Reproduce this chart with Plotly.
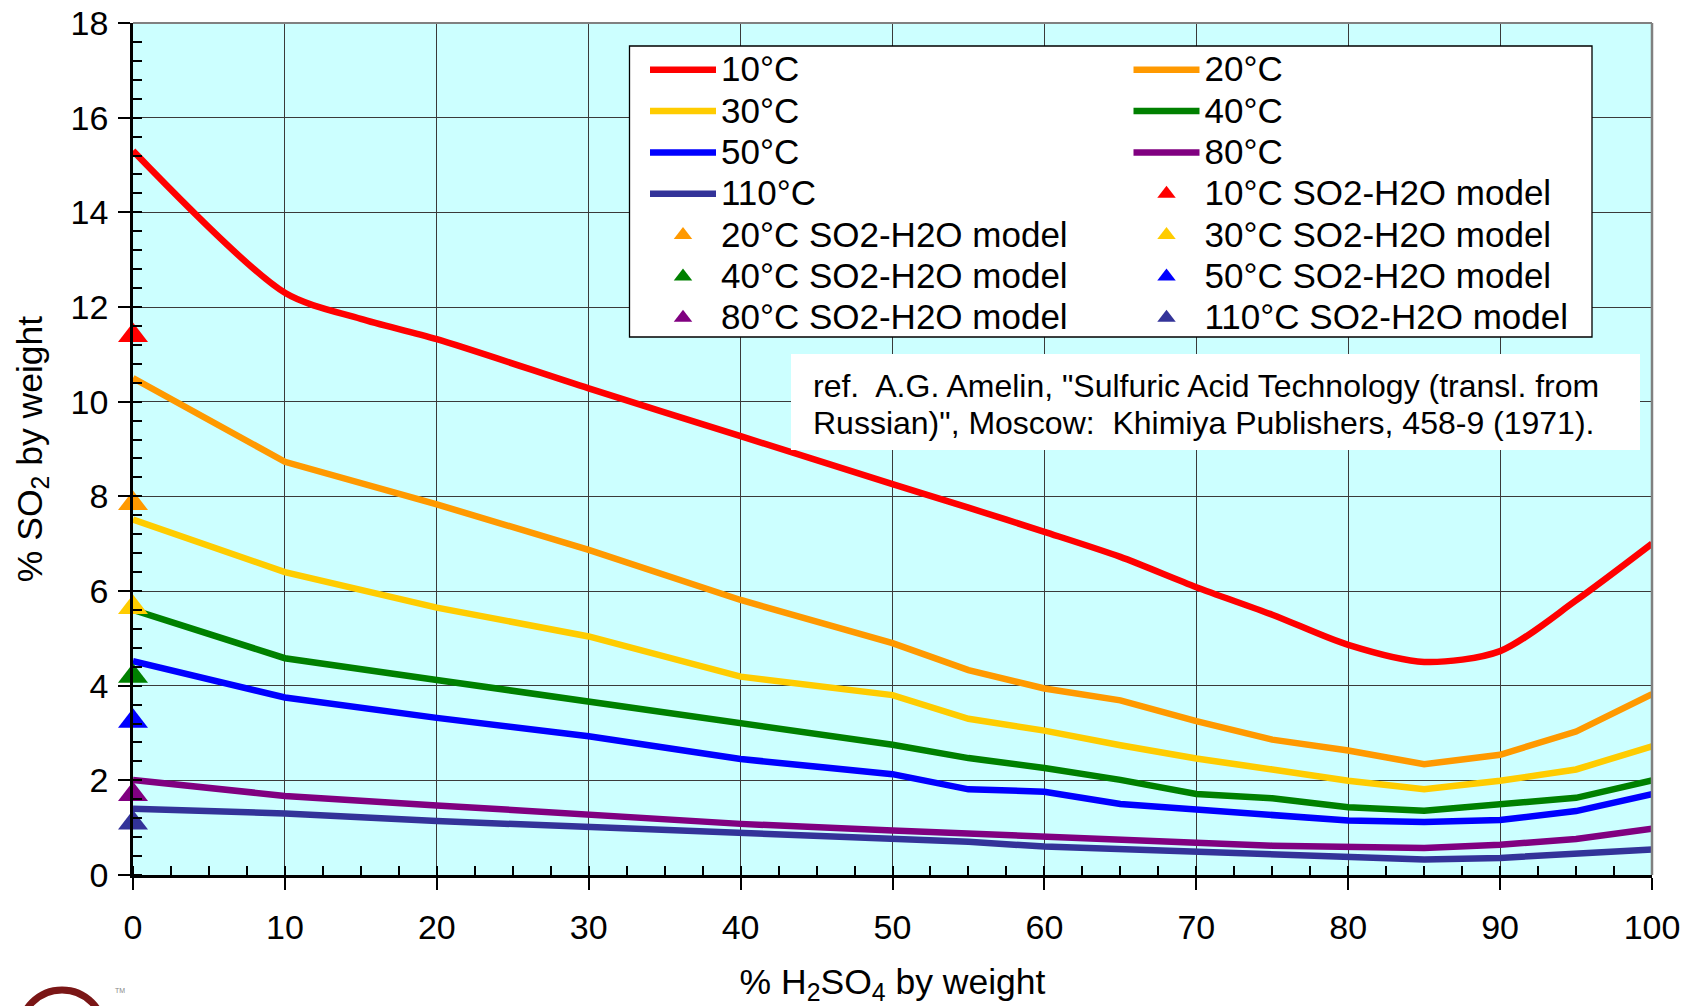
import plotly.graph_objects as go

# ---------------- data ----------------
h2so4_pct = [0, 10, 20, 30, 40, 50, 55, 60, 65, 70, 75, 80, 85, 90, 95, 100]
h2so4_pct_10C = [0, 10, 15, 20, 30, 40, 50, 55, 60, 65, 70, 75, 80, 85, 90, 95, 100]

so2_10C = [15.3, 12.3, 11.75, 11.32, 10.28, 9.27, 8.26, 7.76, 7.25, 6.72, 6.08, 5.5, 4.86, 4.5, 4.73, 5.8, 7.0]
so2_20C = [10.5, 8.73, 7.83, 6.87, 5.81, 4.9, 4.33, 3.94, 3.69, 3.25, 2.86, 2.63, 2.34, 2.54, 3.03, 3.82]
so2_30C = [7.51, 6.40, 5.65, 5.04, 4.19, 3.8, 3.3, 3.05, 2.74, 2.46, 2.23, 1.99, 1.81, 1.99, 2.23, 2.72]
so2_40C = [5.6, 4.58, 4.12, 3.66, 3.2, 2.75, 2.47, 2.26, 2.01, 1.71, 1.62, 1.43, 1.36, 1.5, 1.63, 2.0]
so2_50C = [4.52, 3.75, 3.32, 2.93, 2.45, 2.13, 1.81, 1.76, 1.5, 1.38, 1.25, 1.15, 1.12, 1.16, 1.35, 1.71]
so2_80C = [2.01, 1.67, 1.47, 1.28, 1.08, 0.94, 0.87, 0.79, 0.73, 0.68, 0.62, 0.59, 0.57, 0.64, 0.76, 0.98]
so2_110C = [1.40, 1.30, 1.14, 1.01, 0.89, 0.78, 0.70, 0.60, 0.55, 0.49, 0.42, 0.37, 0.33, 0.36, 0.44, 0.54]

model_x = [0]
model_10C = [11.4]
model_20C = [7.85]
model_30C = [5.65]
model_40C = [4.2]
model_50C = [3.25]
model_80C = [1.7]
model_110C = [1.1]

temps = ["10°C", "20°C", "30°C", "40°C", "50°C", "80°C", "110°C"]
colors = ["#FF0000", "#FF9900", "#FFCC00", "#008000", "#0000FF", "#800080", "#333399"]
curve_x = [h2so4_pct_10C] + [h2so4_pct] * 6
curve_y = [so2_10C, so2_20C, so2_30C, so2_40C, so2_50C, so2_80C, so2_110C]
model_y = [model_10C, model_20C, model_30C, model_40C, model_50C, model_80C, model_110C]

x_ticks = list(range(0, 101, 10))
y_ticks = list(range(0, 19, 2))

# legend column assignment (row-wise 2-column layout as in the reference)
line_legend = ["legend", "legend2", "legend", "legend2", "legend", "legend2", "legend"]
model_legend = ["legend2", "legend", "legend2", "legend", "legend2", "legend", "legend2"]

FONT = "Arial, Liberation Sans, sans-serif"
LEG_TXT = '<span style="font-size:35px">{}</span>'

# ---------------- geometry helpers (pixels -> paper) ----------------
W, H = 1696, 1006
ML, MR, MT, MB = 133, 44, 23, 131
PW, PH = W - ML - MR, H - MT - MB


def px(xp):
    return (xp - ML) / PW


def py(yp):
    return (H - MB - yp) / PH


fig = go.Figure()

for i, t in enumerate(temps):
    fig.add_trace(go.Scatter(
        x=curve_x[i], y=curve_y[i], mode="lines", name=LEG_TXT.format(t),
        line=dict(color=colors[i], width=6.5, shape="spline" if i == 0 else "linear", smoothing=0.8),
        legend=line_legend[i],
    ))

for i, t in enumerate(temps):
    fig.add_trace(go.Scatter(
        x=model_x, y=model_y[i], mode="markers", name=LEG_TXT.format(t + " SO2-H2O model"),
        marker=dict(symbol="triangle-up", size=26, color=colors[i], line=dict(width=0)),
        legend=model_legend[i], cliponaxis=False,
    ))

shapes = [
    # top and right plot borders (gray)
    dict(type="line", xref="paper", yref="paper", x0=0, x1=1, y0=1, y1=1,
         line=dict(color="#808080", width=2), layer="above"),
    dict(type="line", xref="paper", yref="paper", x0=1, x1=1, y0=0, y1=1,
         line=dict(color="#808080", width=2.5), layer="above"),
    # legend box
    dict(type="rect", xref="paper", yref="paper", x0=px(629.5), x1=px(1592), y0=py(46), y1=py(337),
         fillcolor="white", line=dict(color="black", width=1.3), layer="above"),
    # reference text box
    dict(type="rect", xref="paper", yref="paper", x0=px(791), x1=px(1640), y0=py(354), y1=py(450),
         fillcolor="white", line=dict(width=0), layer="above"),
    # partial logo at the bottom-left
    dict(type="circle", xref="paper", yref="paper", x0=px(20), x1=px(104), y0=py(990), y1=py(1074),
         fillcolor="white", line=dict(color="#7a1616", width=7), layer="above"),
]

annotations = [
    dict(xref="paper", yref="paper", x=px(811), y=py(404.5), xanchor="left", yanchor="middle",
         align="left", showarrow=False,
         text='<span style="font-size:32px">ref.  A.G. Amelin, "Sulfuric Acid Technology (transl. from</span><br>'
              '<span style="font-size:32px">Russian)", Moscow:  Khimiya Publishers, 458-9 (1971).</span>',
         font=dict(family=FONT, size=28.3, color="black")),
    dict(xref="paper", yref="paper", x=px(113), y=py(990), xanchor="left", yanchor="middle",
         showarrow=False, text="TM", font=dict(family=FONT, size=7, color="#888888")),
]

legend_common = dict(
    bgcolor="rgba(0,0,0,0)", borderwidth=0, orientation="v",
    font=dict(family=FONT, size=29.5, color="black"),
    itemwidth=66, xanchor="left", yanchor="top", tracegroupgap=0,
    itemclick=False, itemdoubleclick=False,
)

fig.update_layout(
    width=W, height=H,
    margin=dict(l=ML, r=MR, t=MT, b=MB, autoexpand=False),
    paper_bgcolor="white", plot_bgcolor="#CCFFFF",
    font=dict(family=FONT, size=34, color="black"),
    showlegend=True,
    legend=dict(x=px(645), y=py(44), **legend_common),
    legend2=dict(x=px(1128.5), y=py(44), **legend_common),
    shapes=shapes, annotations=annotations,
    xaxis=dict(
        range=[0, 100], tickvals=x_ticks, ticks="outside", ticklen=12, tickwidth=2, tickcolor="black",
        showline=True, linecolor="black", linewidth=2.5,
        showgrid=True, gridcolor="#3a3a3a", gridwidth=1.2, zeroline=False,
        tickfont=dict(size=34), ticklabelstandoff=8,
        minor=dict(dtick=2.5, tick0=0, ticks="inside", ticklen=9, tickwidth=2, tickcolor="black", showgrid=False),
        title=dict(text="% H<sub>2</sub>SO<sub>4</sub> by weight", font=dict(size=35.5), standoff=30),
    ),
    yaxis=dict(
        range=[0, 18], tickvals=y_ticks, ticks="outside", ticklen=12, tickwidth=2, tickcolor="black",
        showline=True, linecolor="black", linewidth=2.5,
        showgrid=True, gridcolor="#3a3a3a", gridwidth=1.2, zeroline=False,
        tickfont=dict(size=34), ticklabelstandoff=3,
        minor=dict(dtick=0.4, tick0=0, ticks="inside", ticklen=9, tickwidth=2, tickcolor="black", showgrid=False),
        title=dict(text="% SO<sub>2</sub> by weight", font=dict(size=35.5), standoff=18),
    ),
)

fig.write_html("out.html")
